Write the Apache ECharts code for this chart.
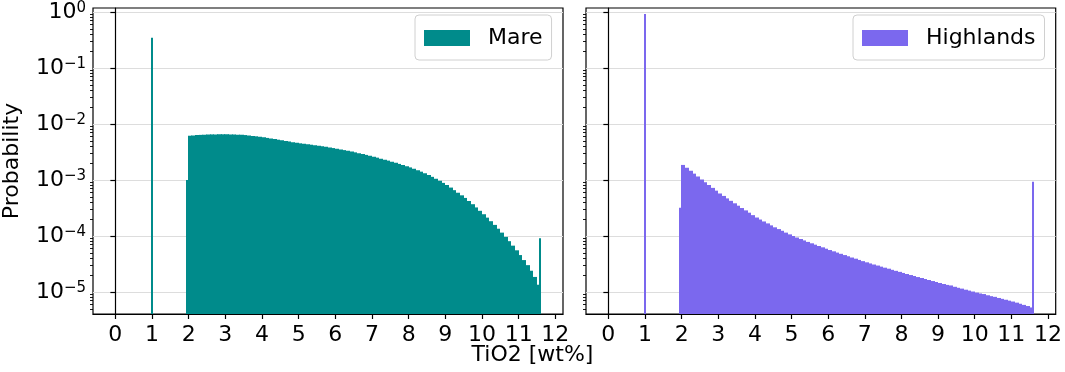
<!DOCTYPE html>
<html>
<head>
<meta charset="utf-8">
<script src="https://cdn.jsdelivr.net/npm/echarts@6/dist/echarts.min.js"></script>
<style>
  html, body { margin: 0; padding: 0; background: #fff; }
  #chart { width: 1065px; height: 372px; }
</style>
</head>
<body>
<div id="chart"></div>
<script>
// histogram bins: 0.1 wt% wide, first bin starts at 1.99
const binStart = 1.99;
const binWidth = 0.1;

// Mare probabilities per bin (2.0 ... 11.5)
const mareValues = [
  6.18e-3, 6.27e-3, 6.34e-3, 6.40e-3, 6.44e-3, 6.49e-3, 6.52e-3, 6.53e-3, 6.55e-3, 6.55e-3,
  6.55e-3, 6.53e-3, 6.50e-3, 6.46e-3, 6.41e-3, 6.35e-3, 6.25e-3, 6.14e-3, 6.03e-3, 5.90e-3,
  5.78e-3, 5.65e-3, 5.51e-3, 5.38e-3, 5.25e-3, 5.13e-3, 5.00e-3, 4.88e-3, 4.75e-3, 4.63e-3,
  4.52e-3, 4.44e-3, 4.35e-3, 4.27e-3, 4.18e-3, 4.10e-3, 4.01e-3, 3.91e-3, 3.81e-3, 3.72e-3,
  3.62e-3, 3.52e-3, 3.42e-3, 3.32e-3, 3.22e-3, 3.12e-3, 3.01e-3, 2.91e-3, 2.81e-3, 2.71e-3,
  2.61e-3, 2.51e-3, 2.41e-3, 2.31e-3, 2.22e-3, 2.12e-3, 2.03e-3, 1.94e-3, 1.85e-3, 1.77e-3,
  1.68e-3, 1.59e-3, 1.50e-3, 1.41e-3, 1.32e-3, 1.23e-3, 1.14e-3, 1.05e-3, 9.70e-4, 8.89e-4,
  8.13e-4, 7.33e-4, 6.59e-4, 5.93e-4, 5.33e-4, 4.79e-4, 4.22e-4, 3.70e-4, 3.24e-4, 2.82e-4,
  2.45e-4, 2.13e-4, 1.84e-4, 1.58e-4, 1.35e-4, 1.15e-4, 9.66e-5, 8.09e-5, 6.73e-5, 5.56e-5,
  4.57e-5, 3.72e-5, 3.02e-5, 2.40e-5, 1.86e-5, 1.35e-5
];

// Highlands probabilities per bin (2.0 ... 11.5)
const highlandsValues = [
  1.86e-3, 1.65e-3, 1.47e-3, 1.30e-3, 1.15e-3, 1.02e-3, 9.12e-4, 8.13e-4, 7.24e-4, 6.46e-4,
  5.75e-4, 5.20e-4, 4.70e-4, 4.25e-4, 3.84e-4, 3.48e-4, 3.16e-4, 2.87e-4, 2.61e-4, 2.36e-4,
  2.14e-4, 1.97e-4, 1.82e-4, 1.68e-4, 1.55e-4, 1.43e-4, 1.33e-4, 1.24e-4, 1.15e-4, 1.07e-4,
  1.00e-4, 9.40e-5, 8.85e-5, 8.34e-5, 7.85e-5, 7.41e-5, 7.01e-5, 6.64e-5, 6.28e-5, 5.94e-5,
  5.62e-5, 5.33e-5, 5.06e-5, 4.81e-5, 4.57e-5, 4.35e-5, 4.13e-5, 3.94e-5, 3.74e-5, 3.56e-5,
  3.39e-5, 3.24e-5, 3.10e-5, 2.97e-5, 2.84e-5, 2.72e-5, 2.61e-5, 2.49e-5, 2.39e-5, 2.29e-5,
  2.19e-5, 2.10e-5, 2.01e-5, 1.93e-5, 1.85e-5, 1.78e-5, 1.71e-5, 1.64e-5, 1.57e-5, 1.51e-5,
  1.45e-5, 1.39e-5, 1.34e-5, 1.31e-5, 1.24e-5, 1.19e-5, 1.15e-5, 1.10e-5, 1.06e-5, 1.02e-5,
  9.77e-6, 9.42e-6, 9.20e-6, 8.75e-6, 8.43e-6, 8.20e-6, 7.83e-6, 7.55e-6, 7.28e-6, 7.01e-6,
  6.76e-6, 6.46e-6, 6.17e-6, 5.89e-6, 5.62e-6, 5.30e-6
];

// narrow single bins [x0, x1, probability]: clipped values at 1 and 11.6, and first partial bin
const mareSpikes = [[0.975, 1.03, 0.348], [1.945, 1.99, 1.0e-3], [11.56, 11.612, 9.1e-5]];
const highlandsSpikes = [[0.975, 1.03, 0.92], [1.945, 1.99, 3.2e-4], [11.56, 11.612, 9.3e-4]];

const xTicks = [0, 1, 2, 3, 4, 5, 6, 7, 8, 9, 10, 11, 12];
const yTicks = [1e-5, 1e-4, 1e-3, 1e-2, 1e-1, 1];
const yMinorTicks = [];
[1e-6, 1e-5, 1e-4, 1e-3, 1e-2, 1e-1].forEach(d => {
  for (let k = 2; k <= 9; k++) yMinorTicks.push(k * d);
});

const xMin = -0.61, xMax = 12.21;
const yMin = 4.05e-6, yMax = 1.18;

const mareColor = '#008b8b';
const highlandsColor = '#7b68ee';
const font = 'DejaVu Sans';
const fs = 22;

function toBins(values, spikes) {
  const bins = values.map((v, i) => [binStart + i * binWidth, binStart + (i + 1) * binWidth, v]);
  return bins.concat(spikes);
}

// snap bin edges to whole pixels so neighbouring bars leave no seams
function renderBin(params, api) {
  const top = api.coord([api.value(0), api.value(2)]);
  const bottom = api.coord([api.value(1), yMin]);
  let x0, x1;
  if (bottom[0] - top[0] < 2.5) {
    x0 = Math.round((top[0] + bottom[0]) / 2 - 1);
    x1 = x0 + 2;
  } else {
    x0 = Math.floor(top[0]);
    x1 = Math.ceil(bottom[0]);
  }
  return {
    type: 'rect',
    shape: { x: x0, y: top[1], width: x1 - x0, height: bottom[1] - top[1] },
    style: { fill: api.visual('color') }
  };
}

function supLabel(v) {
  const e = Math.round(Math.log10(v));
  const s = e < 0 ? '\u2212' + (-e) : String(e);
  return '{b|10}{s|' + s + '}';
}

const grids = [
  { left: 91, top: 8, width: 472, height: 306 },
  { left: 586, top: 8, width: 472, height: 306 }
];

function xAxis(i) {
  return {
    type: 'value', gridIndex: i, min: xMin, max: xMax,
    axisLine: { show: true, onZero: false, lineStyle: { color: '#000', width: 1.2 } },
    axisTick: { show: true, length: 5, customValues: xTicks, lineStyle: { color: '#000', width: 1.2 } },
    axisLabel: { customValues: xTicks, fontSize: fs, fontFamily: font, color: '#000', margin: 10 },
    splitLine: { show: false }
  };
}

function yAxisMain(i, withLabels) {
  const ax = {
    type: 'log', logBase: 10, gridIndex: i, min: yMin, max: yMax, position: 'left',
    axisLine: { show: true, lineStyle: { color: '#000', width: 1.2 } },
    axisTick: { show: true, length: 5, customValues: yTicks, lineStyle: { color: '#000', width: 1.2 } },
    axisLabel: {
      show: withLabels, customValues: yTicks, formatter: supLabel, margin: 7,
      rich: {
        b: { fontSize: fs, fontFamily: font, color: '#000', lineHeight: 23 },
        s: { fontSize: 15, fontFamily: font, color: '#000', lineHeight: 15, verticalAlign: 'top' }
      }
    },
    splitLine: { show: true, lineStyle: { color: '#dddddd', width: 1 } }
  };
  if (withLabels) {
    ax.name = 'Probability';
    ax.nameLocation = 'middle';
    ax.nameGap = 70;
    ax.nameTextStyle = { fontSize: fs, fontFamily: font, color: '#000' };
  }
  return ax;
}

function yAxisMinor(i) {
  return {
    type: 'log', logBase: 10, gridIndex: i, min: yMin, max: yMax, position: 'left', offset: 0,
    axisLine: { show: false },
    axisTick: { show: true, length: 3, customValues: yMinorTicks, lineStyle: { color: '#000', width: 0.9 } },
    axisLabel: { show: false },
    splitLine: { show: false }
  };
}

function legendBox(name, left) {
  return {
    data: [{ name: name, icon: 'rect' }],
    left: left, top: 15,
    orient: 'horizontal',
    itemWidth: 46, itemHeight: 16,
    padding: [12, 9, 11, 9],
    borderColor: '#d0d0d0', borderWidth: 1, borderRadius: 4,
    backgroundColor: 'rgba(255,255,255,0.85)',
    textStyle: { fontSize: fs, fontFamily: font, color: '#000', padding: [0, 0, 0, 13] }
  };
}

const chart = echarts.init(document.getElementById('chart'), null, { renderer: 'canvas' });

chart.setOption({
  animation: false,
  backgroundColor: '#fff',
  title: {
    text: 'TiO2 [wt%]', left: 'center', top: 344, padding: 0,
    textStyle: { fontSize: fs, fontFamily: font, fontWeight: 'normal', color: '#000' }
  },
  legend: [legendBox('Mare', 415), legendBox('Highlands', 853)],
  grid: grids.map(g => Object.assign({ show: true, borderColor: '#000', borderWidth: 1.2 }, g)),
  xAxis: [xAxis(0), xAxis(1)],
  yAxis: [yAxisMain(0, true), yAxisMinor(0), yAxisMain(1, false), yAxisMinor(1)],
  series: [
    {
      name: 'Mare', type: 'custom', xAxisIndex: 0, yAxisIndex: 0,
      itemStyle: { color: mareColor },
      encode: { x: [0, 1], y: 2 },
      renderItem: renderBin,
      data: toBins(mareValues, mareSpikes)
    },
    {
      name: 'Highlands', type: 'custom', xAxisIndex: 1, yAxisIndex: 2,
      itemStyle: { color: highlandsColor },
      encode: { x: [0, 1], y: 2 },
      renderItem: renderBin,
      data: toBins(highlandsValues, highlandsSpikes)
    }
  ]
});
</script>
</body>
</html>
